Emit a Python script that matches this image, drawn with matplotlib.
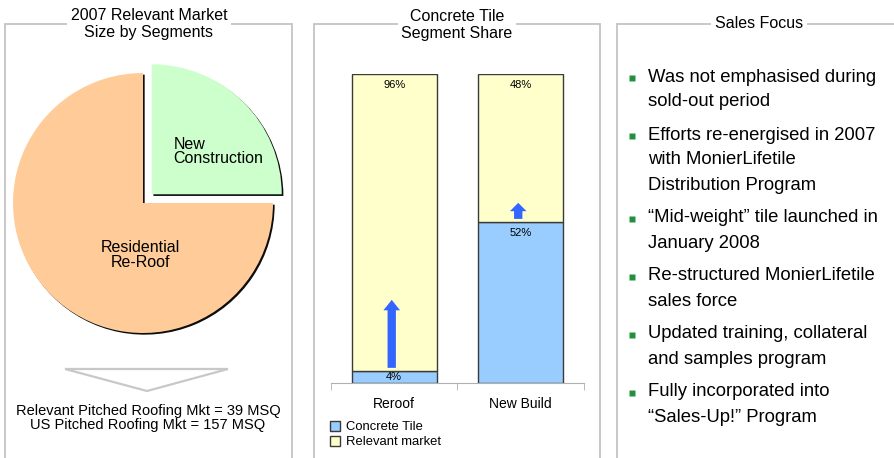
import matplotlib
matplotlib.use("Agg")
import matplotlib.pyplot as plt
import matplotlib.patheffects as pe
from matplotlib.patches import Polygon, Patch

plt.rcParams['font.family'] = ['Liberation Sans', 'DejaVu Sans']

W, H = 895, 458

# left panel: relevant market split
pie_labels = ['New\nConstruction', 'Residential\nRe-Roof']
pie_share = [25, 75]
pie_colors = ['#ccffcc', '#ffcc99']
mkt_notes = ['Relevant Pitched Roofing Mkt = 39 MSQ',
             'US Pitched Roofing Mkt = 157 MSQ']

# middle panel: concrete tile share by segment
segments = ['Reroof', 'New Build']
tile_share = [4, 52]
market_share = [96, 48]
tile_color = '#99ccff'
market_color = '#ffffcc'
arrow_color = '#3366ff'

# right panel
focus_points = [
    ['Was not emphasised during', 'sold-out period'],
    ['Efforts re-energised in 2007', 'with MonierLifetile', 'Distribution Program'],
    ['\u201cMid-weight\u201d tile launched in', 'January 2008'],
    ['Re-structured MonierLifetile', 'sales force'],
    ['Updated training, collateral', 'and samples program'],
    ['Fully incorporated into', '\u201cSales-Up!\u201d Program'],
]

fig = plt.figure(figsize=(W / 100, H / 100), dpi=100)
fig.patch.set_facecolor('white')


def fbox(l, t, r, b):
    # pixel box (top-left origin) -> figure fraction rect
    return [l / W, 1 - b / H, (r - l) / W, (b - t) / H]


# background layer in pixel units for frames and free text
bg = fig.add_axes([0, 0, 1, 1])
bg.set_xlim(0, W)
bg.set_ylim(H, 0)
bg.axis('off')

frame_col = '#c4c4c4'
for l, r in [(5, 292), (314, 600), (617, 920)]:
    bg.plot([l, l, r, r], [H + 2, 24, 24, H + 2], color=frame_col, lw=1.3,
            solid_joinstyle='miter', clip_on=False)

title_kw = dict(ha='center', va='center', fontsize=11.5, linespacing=1.15,
                bbox=dict(facecolor='white', edgecolor='none', pad=2.5))
bg.text(149, 24, '2007 Relevant Market\nSize by Segments', **title_kw)
bg.text(457, 25, 'Concrete Tile\nSegment Share', **title_kw)
bg.text(759, 23, 'Sales Focus', **title_kw)

# down chevron under the pie
bg.add_patch(Polygon([(65, 369), (228, 369), (147, 391)], closed=True,
                     facecolor='white', edgecolor='#c8c8c8', lw=1.6))
bg.text(148, 418, '\n'.join(mkt_notes), ha='center', va='center',
        fontsize=10.5, linespacing=1.05)

# bullets
y = 77
for item in focus_points:
    bg.plot(632, y + 1, marker='s', ms=3.7, color='#22903c', mec='none')
    for line in item:
        bg.text(648, y, line, ha='left', va='center', fontsize=13.3)
        y += 25
    y += 8

# ---- pie ----
cx, cy, rad = 143, 203, 130
half = 150
axp = fig.add_axes(fbox(cx - half, cy - half, cx + half, cy + half))
wedges, _ = axp.pie(pie_share, colors=pie_colors, startangle=0,
                    counterclock=True, explode=[0.095, 0], radius=1,
                    wedgeprops=dict(linewidth=0))
for w in wedges:
    w.set_path_effects([pe.SimplePatchShadow(offset=(1.2, -1.2),
                                             shadow_rgbFace='black', alpha=0.95),
                        pe.Normal()])
lim = half / rad
axp.set_xlim(-lim, lim)
axp.set_ylim(-lim, lim)
axp.axis('off')
axp.text(0.235, 0.395, pie_labels[0], ha='left', va='center',
         fontsize=11.5, linespacing=0.95)
axp.text(-0.02, -0.4, pie_labels[1], ha='center', va='center',
         fontsize=11.5, linespacing=0.95)

# ---- stacked bars ----
axb = fig.add_axes(fbox(331, 74, 584, 383))
xs = range(len(segments))
edge = '#3a3a3a'
b1 = axb.bar(xs, tile_share, width=0.67, color=tile_color,
             edgecolor=edge, lw=1)
b2 = axb.bar(xs, market_share, width=0.67, bottom=tile_share,
             color=market_color, edgecolor=edge, lw=1)
axb.set_xlim(-0.5, 1.5)
axb.set_ylim(0, 100)
for s in ['top', 'right', 'left']:
    axb.spines[s].set_visible(False)
axb.spines['bottom'].set_color('#b0b0b0')
axb.set_yticks([])
axb.set_xticks(list(xs), segments, fontsize=10)
axb.tick_params(axis='x', which='major', length=0, pad=10)
axb.set_xticks([-0.5, 0.5, 1.5], minor=True)
axb.tick_params(axis='x', which='minor', length=5, color='#b0b0b0',
                direction='out')

for i, (t, m) in enumerate(zip(tile_share, market_share)):
    axb.text(i, t + m - 3.6, f'{m:.0f}%', ha='center', va='center', fontsize=8)
    ty = t - 3.6 if t > 10 else t / 2
    axb.text(i, ty, f'{t:.0f}%', ha='center', va='center', fontsize=8)

# growth arrows
axb.annotate('', xy=(-0.02, 26.9), xytext=(-0.02, 4.9),
             arrowprops=dict(arrowstyle='simple,head_width=12,head_length=7.5,tail_width=6',
                             mutation_scale=1, color=arrow_color,
                             shrinkA=0, shrinkB=0, lw=0))
axb.annotate('', xy=(-0.02 + 1, 58.3), xytext=(-0.02 + 1, 53.1),
             arrowprops=dict(arrowstyle='simple,head_width=12,head_length=6,tail_width=6',
                             mutation_scale=1, color=arrow_color,
                             shrinkA=0, shrinkB=0, lw=0))

fig.legend([Patch(facecolor=tile_color, edgecolor=edge, lw=1),
            Patch(facecolor=market_color, edgecolor=edge, lw=1)],
           ['Concrete Tile', 'Relevant market'],
           loc='upper left', bbox_to_anchor=(330 / W, 1 - 421 / H),
           frameon=False, fontsize=9.4, handlelength=0.75, handleheight=0.75,
           handletextpad=0.5, labelspacing=0.2, borderpad=0, borderaxespad=0)

fig.savefig('out.png', dpi=100, facecolor='white')
